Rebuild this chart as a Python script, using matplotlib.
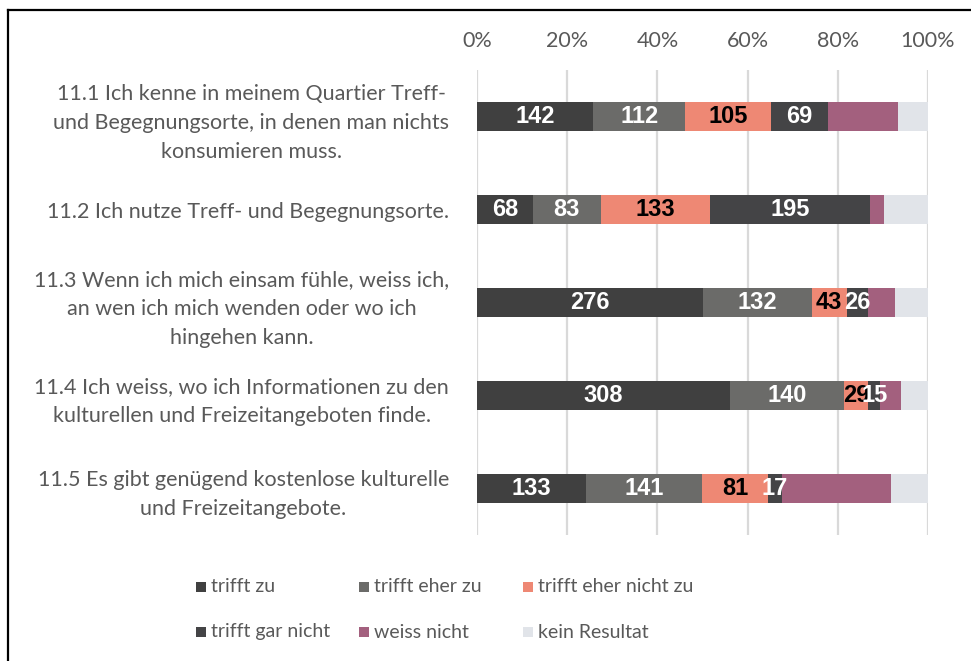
import numpy as np
import matplotlib.pyplot as plt
from matplotlib.lines import Line2D
from matplotlib.patches import Rectangle

categories = [
    "11.1 Ich kenne in meinem Quartier Treff-\nund Begegnungsorte, in denen man nichts\nkonsumieren muss.",
    "11.2 Ich nutze Treff- und Begegnungsorte.",
    "11.3 Wenn ich mich einsam fühle, weiss ich,\nan wen ich mich wenden oder wo ich\nhingehen kann.",
    "11.4 Ich weiss, wo ich Informationen zu den\nkulturellen und Freizeitangeboten finde.",
    "11.5 Es gibt genügend kostenlose kulturelle\nund Freizeitangebote.",
]
series_names = ["trifft zu", "trifft eher zu", "trifft eher nicht zu",
                "trifft gar nicht", "weiss nicht", "kein Resultat"]
trifft_zu = [142, 68, 276, 308, 133]
trifft_eher_zu = [112, 83, 132, 140, 141]
trifft_eher_nicht_zu = [105, 133, 43, 29, 81]
trifft_gar_nicht = [69, 195, 26, 15, 17]
weiss_nicht = [86, 17, 33, 25, 133]
kein_resultat = [36, 54, 40, 33, 45]
x_ticks = [0, 20, 40, 60, 80, 100]

COLORS = ["#404040", "#6b6b69", "#ee8874", "#444446", "#a3607e", "#e1e4e9"]
LABEL_COLORS = ["white", "white", "black", "white", None, None]
TEXT = "#595959"
FONT = "Lato"

plt.rcParams.update({"font.family": FONT})

series = np.array([trifft_zu, trifft_eher_zu, trifft_eher_nicht_zu,
                   trifft_gar_nicht, weiss_nicht, kein_resultat], dtype=float)
pct = series / series.sum(axis=0) * 100

W, H = 971, 661
fig = plt.figure(figsize=(W / 100, H / 100), dpi=100)
ax = fig.add_axes([477 / W, 1 - 535 / H, (928 - 477) / W, (535 - 70) / H])

y = np.arange(len(categories))
left = np.zeros(len(categories))
for i, name in enumerate(series_names):
    bars = ax.barh(y, pct[i], left=left, height=0.32, color=COLORS[i],
                   label=name, zorder=3)
    if LABEL_COLORS[i]:
        for j, b in enumerate(bars):
            ax.text(left[j] + pct[i][j] / 2, y[j], f"{int(series[i][j])}",
                    ha="center", va="center", color=LABEL_COLORS[i],
                    fontsize=17, fontweight="bold",
                    family="Liberation Sans", zorder=4)
    left += pct[i]

ax.set_xlim(0, 100)
ax.set_ylim(len(categories) - 0.5, -0.5)
ax.set_xticks(x_ticks)
ax.set_xticklabels([f"{t}%" for t in x_ticks])
ax.xaxis.tick_top()
ax.tick_params(axis="x", length=0, pad=14, labelsize=15.5, labelcolor=TEXT)
ax.set_yticks(y)
ax.set_yticklabels(categories, multialignment="center", linespacing=1.55)
ax.tick_params(axis="y", length=0, pad=20, labelsize=15.5, labelcolor=TEXT)
ax.grid(axis="x", color="#d9d9d9", lw=1.6, zorder=0)
for s in ax.spines.values():
    s.set_visible(False)

# legend: 2 rows x 3 columns, placed like the original
col_x = [196, 359, 523]
row_y = [587, 632]
for k, name in enumerate(series_names):
    cx = col_x[k % 3]
    cy = row_y[k // 3]
    fig.add_artist(Rectangle((cx / W, (H - cy - 5) / H), 10 / W, 10 / H,
                             facecolor=COLORS[k], edgecolor="none",
                             transform=fig.transFigure))
    fig.text((cx + 15) / W, 1 - cy / H, name, ha="left", va="center",
             fontsize=14, color=TEXT)

# outer frame (top and left edges visible)
fig.add_artist(Line2D([8 / W, 1], [1 - 9.5 / H, 1 - 9.5 / H], color="black", lw=1.6))
fig.add_artist(Line2D([8 / W, 8 / W], [0, 1 - 9.5 / H], color="black", lw=1.6))

fig.savefig("out.png", dpi=100)
